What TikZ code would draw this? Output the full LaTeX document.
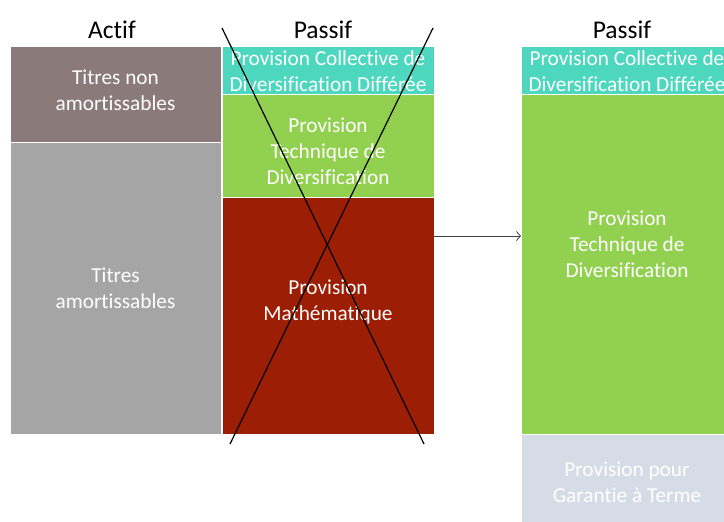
\documentclass[tikz,border=0pt]{standalone}
\usepackage{fontspec}
\setmainfont[Ligatures=NoCommon]{Carlito}
\usepackage{xcolor}
\usetikzlibrary{arrows.meta}

\definecolor{brungris}{RGB}{139,122,122}
\definecolor{gristitre}{RGB}{165,165,165}
\definecolor{turquoise}{RGB}{76,215,190}
\definecolor{vertpt}{RGB}{146,208,80}
\definecolor{rougepm}{RGB}{156,30,4}
\definecolor{bleugris}{RGB}{214,220,229}

\begin{document}
\begin{tikzpicture}[x=1pt,y=-1pt,
    box/.style={draw=white,line width=1pt,inner sep=0pt,outer sep=0pt},
    txt/.style={text=white,align=center,inner sep=0pt,font=\fontsize{21.3}{26}\selectfont},
    titre/.style={font=\fontsize{25.5}{30}\selectfont}]
                    \useasboundingbox (0,0) rectangle (724,522);
                    \clip (0,0) rectangle (724,522);

                    % Column headers
                    \node[titre] (hactif) at (112,30) {Actif};
                    \node[titre] (hpassif) at (323,30) {Passif};
                    \node[titre] (hpassifb) at (622,30) {Passif};

                    % Actif
                    \node[box,fill=brungris,minimum width=211pt,minimum height=96pt] (tna) at (115.5,94) {};
                    \node[box,fill=gristitre,minimum width=211pt,minimum height=292pt] (ta) at (115.5,288) {};
                    \node[txt] (tnatxt) at (115.5,90) {Titres non\\amortissables};
                    \node[txt] (tatxt) at (115.5,288) {Titres\\amortissables};

                    % Passif (before)
                    \node[box,fill=turquoise,minimum width=212pt,minimum height=48pt] (pcdd) at (328,70) {};
                    \node[box,fill=vertpt,minimum width=212pt,minimum height=103pt] (ptd) at (328,145.5) {};
                    \node[box,fill=rougepm,minimum width=212pt,minimum height=237pt] (pm) at (328,315.5) {};
                    \node[txt] (pcddtxt) at (328,71) {Provision Collective de\\Diversification Différée};
                    \node[txt] (ptdtxt) at (328,151) {Provision\\Technique de\\Diversification};
                    \node[txt] (pmtxt) at (328,302) {Provision\\Mathématique};

                    % Passif (after)
                    \node[box,fill=turquoise,minimum width=212pt,minimum height=48pt] (pcddb) at (627,70) {};
                    \node[box,fill=vertpt,minimum width=212pt,minimum height=340pt] (ptdb) at (627,264) {};
                    \node[box,fill=bleugris,minimum width=212pt,minimum height=96pt] (pgt) at (627,482) {};
                    \node[txt] (pcddbtxt) at (627,71) {Provision Collective de\\Diversification Différée};
                    \node[txt] (ptdbtxt) at (627,244) {Provision\\Technique de\\Diversification};
                    \node[txt] (pgttxt) at (627,482) {Provision pour\\Garantie à Terme};

                    % Cross over the old passif
                    \coordinate (xa) at (222,28);
                    \coordinate (xb) at (424,444);
                    \coordinate (xc) at (433,28);
                    \coordinate (xd) at (230,444);
                    \draw[line width=1.2pt] (xa) -- (xb);
                    \draw[line width=1.2pt] (xc) -- (xd);

                    % Transfer
                    \coordinate (fl) at (0,236);
                    \draw[-{Straight Barb[length=4pt,width=9pt]},line width=0.8pt,black!75] (pm.east |- fl) -- (ptdb.west |- fl);
                \end{tikzpicture}
\end{document}
